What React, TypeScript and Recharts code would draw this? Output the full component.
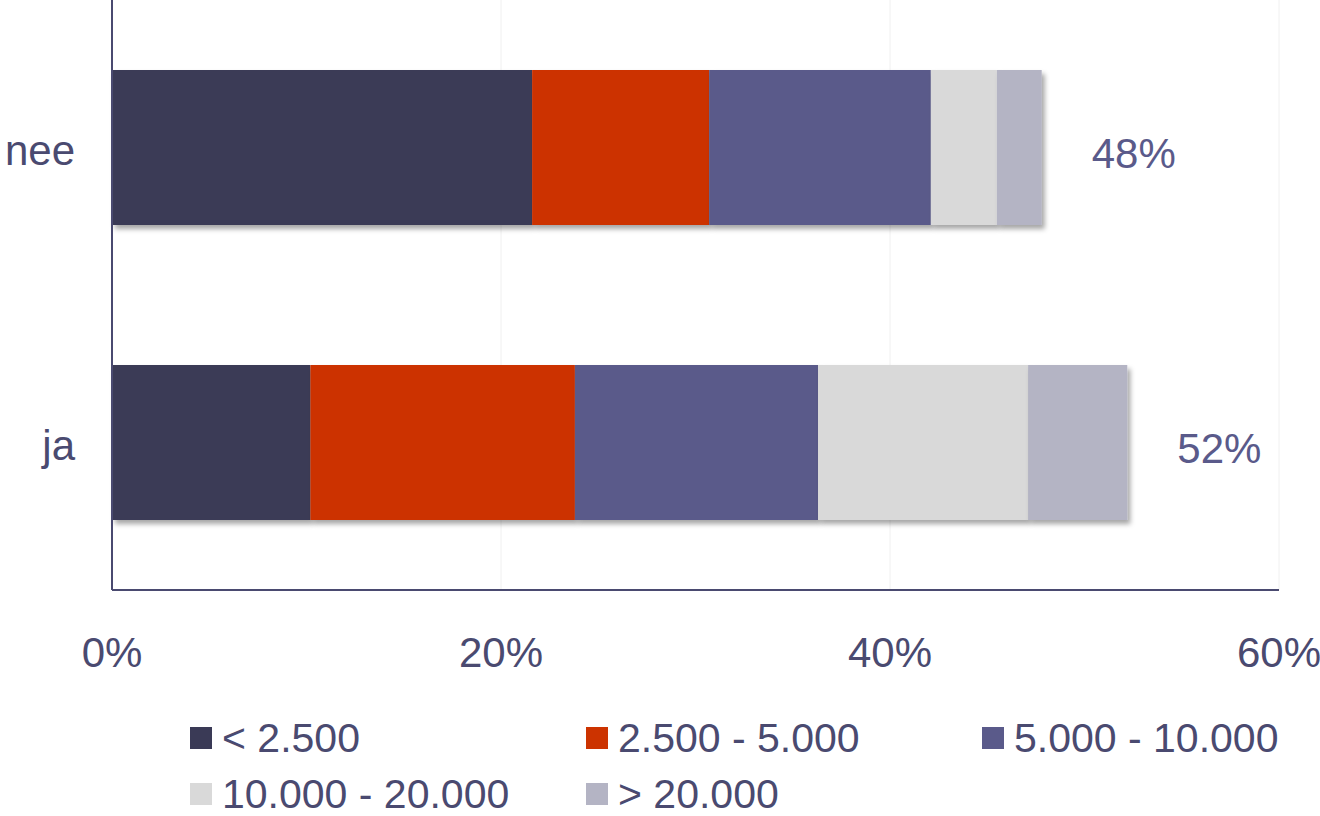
import React from 'react';
import { BarChart, Bar, XAxis, YAxis, CartesianGrid, LabelList } from 'recharts';

const categories = ['nee', 'ja'];
const below2500 = [21.6, 10.2];
const from2500to5000 = [9.1, 13.6];
const from5000to10000 = [11.4, 12.5];
const from10000to20000 = [3.4, 10.8];
const above20000 = [2.3, 5.1];
const totalLabels = ['48%', '52%'];
const xTicks = [0, 20, 40, 60];

const SERIES = [
  { key: 'a', name: '< 2.500', values: below2500, color: '#3a3a56' },
  { key: 'b', name: '2.500 - 5.000', values: from2500to5000, color: '#cc3300' },
  { key: 'c', name: '5.000 - 10.000', values: from5000to10000, color: '#5a5a8a' },
  { key: 'd', name: '10.000 - 20.000', values: from10000to20000, color: '#d9d9d9' },
  { key: 'e', name: '> 20.000', values: above20000, color: '#b4b4c4' },
];

const TEXT = '#4a4a70';
const FONT = '"Liberation Sans", Arial, sans-serif';

const data = categories.map((name, i) => {
  const row: Record<string, string | number> = { name, total: totalLabels[i] };
  SERIES.forEach(s => {
    row[s.key] = s.values[i];
  });
  return row;
});

const App: React.FC = () => {
  return (
    <div style={{ position: 'absolute', left: 0, top: 0, width: 1320, height: 816, fontFamily: FONT, background: '#fff', overflow: 'hidden' }}>
      <BarChart
        width={1320}
        height={816}
        data={data}
        layout="vertical"
        margin={{ top: 0, right: 41, left: 0, bottom: 166 }}
        barCategoryGap={70}
      >
        <defs>
          <filter id="barShadow" x="-10%" y="-10%" width="130%" height="140%">
            <feDropShadow dx="3" dy="4" stdDeviation="2.5" floodColor="#000" floodOpacity="0.35" />
          </filter>
        </defs>
        <CartesianGrid horizontal={false} stroke="#f0f0f0" strokeWidth={1} />
        <XAxis
          type="number"
          domain={[0, 60]}
          ticks={xTicks}
          tickFormatter={v => `${v}%`}
          axisLine={{ stroke: TEXT, strokeWidth: 2 }}
          tickLine={false}
          tickSize={0}
          tickMargin={47}
          height={60}
          tick={{ fill: TEXT, fontSize: 42, fontFamily: FONT }}
        />
        <YAxis
          type="category"
          dataKey="name"
          width={112}
          axisLine={{ stroke: TEXT, strokeWidth: 2 }}
          tickLine={false}
          tickSize={0}
          tickMargin={37}
          tick={{ fill: TEXT, fontSize: 42, fontFamily: FONT, dy: 3 }}
        />
        {SERIES.map((s, idx) => (
          <Bar
            key={s.key}
            dataKey={s.key}
            name={s.name}
            stackId="1"
            fill={s.color}
            filter="url(#barShadow)"
            isAnimationActive={false}
          >
            {idx === SERIES.length - 1 && (
              <LabelList
                dataKey="total"
                position="right"
                offset={50}
                fill="#5a5a8a"
                fontSize={42}
                fontFamily={FONT}
                dy={6}
              />
            )}
          </Bar>
        ))}
      </BarChart>
      {/* legend drawn as html so it can wrap into two rows like the original */}
      <div
        style={{
          position: 'absolute',
          left: 190,
          top: 718,
          display: 'grid',
          gridTemplateColumns: '396px 396px 340px',
          rowGap: 16,
        }}
      >
        {SERIES.map(s => (
          <div key={s.key} style={{ display: 'flex', alignItems: 'center', height: 40, lineHeight: '40px', color: TEXT, fontSize: 41 }}>
            <span style={{ width: 22, height: 22, background: s.color, display: 'inline-block', marginRight: 10 }} />
            <span>{s.name}</span>
          </div>
        ))}
      </div>
    </div>
  );
};

export default App;
